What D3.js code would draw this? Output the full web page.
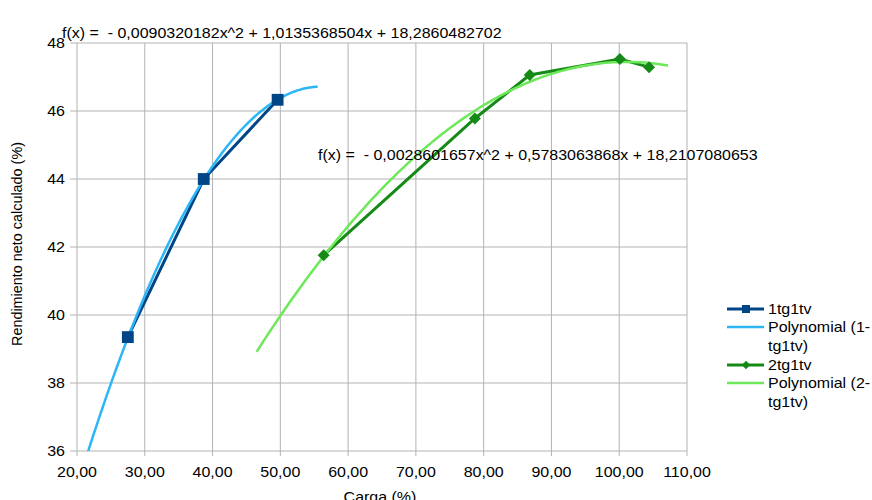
<!DOCTYPE html>
<html><head><meta charset="utf-8">
<script src="https://cdn.jsdelivr.net/npm/d3@7"></script>
<style>body{margin:0;background:#fff}svg{display:block;font-family:"Liberation Sans",Arial,sans-serif}</style>
</head><body>
<svg id="c" width="872" height="500"></svg>
<script>
const s1x = [27.5, 38.7, 49.6];
const s1y = [39.35, 44.0, 46.33];
const s2x = [56.4, 78.7, 86.8, 100.1, 104.4];
const s2y = [41.76, 45.78, 47.06, 47.53, 47.29];
const poly1 = [18.2860482702, 1.0135368504, -0.0090320182];
const poly1Range = [21.5, 55.5];
const poly2 = [18.2107080653, 0.5783063868, -0.0028601657];
const poly2Range = [46.5, 107.2];
const eq1 = "f(x) =  - 0,0090320182x^2 + 1,0135368504x + 18,2860482702";
const eq2 = "f(x) =  - 0,0028601657x^2 + 0,5783063868x + 18,2107080653";
const xTicks = [20,30,40,50,60,70,80,90,100,110];
const yTicks = [36,38,40,42,44,46,48];
const legendLabels = [["1tg1tv"],["Polynomial (1-","tg1tv)"],["2tg1tv"],["Polynomial (2-","tg1tv)"]];

const svg = d3.select("#c");
const x = d3.scaleLinear().domain([20,110]).range([77,687]);
const y = d3.scaleLinear().domain([36,48]).range([451,43]);
const fmt = v => v.toFixed(2).replace(".", ",");
const FS = 14.4, SX = 1.11;

function txt(g, px, py, str, anchor){
  return g.append("text")
    .attr("transform", `translate(${px},${py}) scale(${SX},1)`)
    .attr("text-anchor", anchor || "start")
    .attr("font-size", FS).attr("fill", "#000")
    .style("white-space","pre").text(str);
}

svg.append("clipPath").attr("id","pc").append("rect")
  .attr("x",77).attr("y",43).attr("width",610).attr("height",408);

// grid
svg.append("g").selectAll("line").data(xTicks).join("line")
  .attr("x1",d=>x(d)).attr("x2",d=>x(d)).attr("y1",43).attr("y2",456)
  .attr("stroke","#b3b3b3").attr("stroke-width",1);
svg.append("g").selectAll("line").data(yTicks).join("line")
  .attr("x1",70).attr("x2",687).attr("y1",d=>y(d)).attr("y2",d=>y(d))
  .attr("stroke","#b3b3b3").attr("stroke-width",1);

// tick labels
const tg = svg.append("g");
yTicks.forEach(d => txt(tg, 65, y(d)+5, String(d), "end"));
xTicks.forEach(d => txt(tg, x(d), 477, fmt(d), "middle"));

// axis titles
svg.append("text").attr("transform","translate(22,244) rotate(-90)")
  .attr("text-anchor","middle").attr("font-size",FS).text("Rendimiento neto calculado (%)");
txt(svg, 380, 502, "Carga (%)", "middle");

function polyPts(c, r){
  const pts=[]; const n=120;
  for(let i=0;i<=n;i++){const xv=r[0]+(r[1]-r[0])*i/n; pts.push([xv,c[0]+c[1]*xv+c[2]*xv*xv]);}
  return pts;
}
const line = d3.line().x(d=>x(d[0])).y(d=>y(d[1]));
const plot = svg.append("g").attr("clip-path","url(#pc)");

const c1="#004586", c1p="#2cb6f5", c2="#168a16", c2p="#6ee85a";

plot.append("path").datum(s1x.map((v,i)=>[v,s1y[i]])).attr("d",line)
  .attr("fill","none").attr("stroke",c1).attr("stroke-width",3);
plot.append("path").datum(polyPts(poly1,poly1Range)).attr("d",line)
  .attr("fill","none").attr("stroke",c1p).attr("stroke-width",2.5);
plot.append("path").datum(s2x.map((v,i)=>[v,s2y[i]])).attr("d",line)
  .attr("fill","none").attr("stroke",c2).attr("stroke-width",3);
plot.append("path").datum(polyPts(poly2,poly2Range)).attr("d",line)
  .attr("fill","none").attr("stroke",c2p).attr("stroke-width",2.5);

const sq = d3.symbol().type(d3.symbolSquare).size(140);
const dm = d3.symbol().type(d3.symbolSquare).size(72);
plot.append("g").selectAll("path").data(s1x.map((v,i)=>[v,s1y[i]])).join("path")
  .attr("d",sq).attr("transform",d=>`translate(${x(d[0])},${y(d[1])})`).attr("fill",c1);
plot.append("g").selectAll("path").data(s2x.map((v,i)=>[v,s2y[i]])).join("path")
  .attr("d",dm).attr("transform",d=>`translate(${x(d[0])},${y(d[1])}) rotate(45)`).attr("fill",c2);

// equations
txt(svg, 62, 38, eq1);
txt(svg, 318, 160, eq2);

// legend
const lg = svg.append("g");
const items = [
  {c:c1,w:3,m:"sq",y:309},
  {c:c1p,w:2.5,m:null,y:327},
  {c:c2,w:3,m:"dm",y:365},
  {c:c2p,w:2.5,m:null,y:383}
];
items.forEach((it,i)=>{
  lg.append("line").attr("x1",727).attr("x2",764).attr("y1",it.y).attr("y2",it.y)
    .attr("stroke",it.c).attr("stroke-width",it.w);
  if(it.m==="sq") lg.append("path").attr("d",d3.symbol().type(d3.symbolSquare).size(64)).attr("transform",`translate(746,${it.y})`).attr("fill",it.c);
  if(it.m==="dm") lg.append("path").attr("d",d3.symbol().type(d3.symbolSquare).size(36)).attr("transform",`translate(746,${it.y}) rotate(45)`).attr("fill",it.c);
  legendLabels[i].forEach((t,j)=>{
    txt(lg, 768, it.y+5+j*18.5, t);
  });
});
</script>
</body></html>
